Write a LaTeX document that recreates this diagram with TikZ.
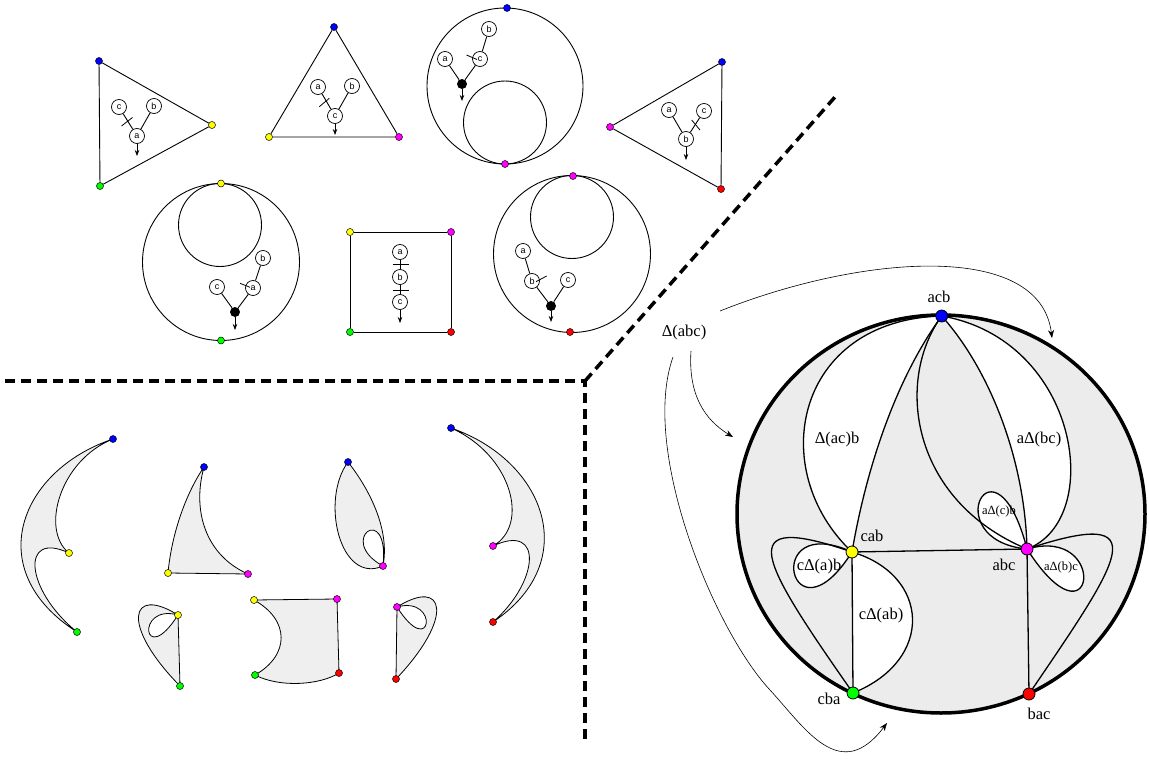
\documentclass[tikz,border=0pt]{standalone}
\usepackage{fontspec}
\setmainfont{Liberation Serif}
\setsansfont{Liberation Sans}
\usetikzlibrary{arrows.meta}
\definecolor{mgray}{RGB}{236,236,236}
\definecolor{lgray}{RGB}{239,239,239}
\definecolor{cB}{RGB}{0,0,255}
\definecolor{cY}{RGB}{255,255,0}
\definecolor{cG}{RGB}{0,255,0}
\definecolor{cM}{RGB}{255,0,255}
\definecolor{cR}{RGB}{255,0,0}
\begin{document}
\begin{tikzpicture}[x=1pt,y=-1pt,
 ln/.style={line width=0.9pt},
 tn/.style={circle,draw,line width=0.7pt,fill=white,minimum size=15pt,inner sep=0pt,font=\sffamily\fontsize{9}{9}\selectfont},
 bn/.style={circle,fill=black,minimum size=10pt,inner sep=0pt},
 sdot/.style={circle,draw,line width=0.5pt,minimum size=7pt,inner sep=0pt},
 mdot/.style={circle,draw,line width=0.8pt,minimum size=12pt,inner sep=0pt},
 lbl/.style={font=\fontsize{16.5}{18}\selectfont,inner sep=1pt},
 slbl/.style={font=\fontsize{12.5}{14}\selectfont,inner sep=1pt},
 tarr/.style={-{Stealth[length=6pt,width=4.5pt]},line width=0.7pt},
 barr/.style={-{Stealth[length=8pt,width=6pt]},line width=0.6pt},
 tickln/.style={line width=0.8pt},
 sep/.style={line width=3.5pt,dash pattern=on 10pt off 6pt},
 shp/.style={fill=lgray,draw=black,line width=0.8pt},
 mln/.style={line width=1.3pt}
]
\useasboundingbox (0,0) rectangle (1149,760);

% ---------- separators
\draw[sep] (5,381) -- (585,381) -- (585,740);
\draw[sep] (585,381) -- (835,97);

% ---------- top shape 1
\node[sdot,fill=cB] (t1B) at (99,61) {};
\node[sdot,fill=cY] (t1Y) at (212,125) {};
\node[sdot,fill=cG] (t1G) at (100,186) {};
\draw[ln] (t1B) -- (t1Y) -- (t1G) -- (t1B);
\node[tn] (t1c) at (119,107) {c};
\node[tn] (t1b) at (154,106) {b};
\node[tn] (t1a) at (137,136) {a};
\coordinate (t1e) at (137,156);
\draw[ln] (t1c) -- (t1a) (t1b) -- (t1a);
\draw[tarr] (t1a) -- (t1e);
\draw[tickln] (121.5,126) -- (132.5,117.5);

% ---------- top shape 2
\node[sdot,fill=cB] (t2B) at (334,27) {};
\node[sdot,fill=cY] (t2Y) at (269,137) {};
\node[sdot,fill=cM] (t2M) at (399,137) {};
\draw[ln] (t2B) -- (t2M) -- (t2Y) -- (t2B);
\node[tn] (t2a) at (318,87) {a};
\node[tn] (t2b) at (352,86) {b};
\node[tn] (t2c) at (335,116) {c};
\coordinate (t2e) at (335,135);
\draw[ln] (t2a) -- (t2c) (t2b) -- (t2c);
\draw[tarr] (t2c) -- (t2e);
\draw[tickln] (319.3,106.7) -- (329.3,98.3);

% ---------- top shape 3
\draw[ln] (505,86) circle[radius=78];
\draw[ln] (505,122.5) circle[radius=41.5];
\node[sdot,fill=cB] (t3B) at (507,8) {};
\node[sdot,fill=cM] (t3M) at (505,164) {};
\node[tn] (t3a) at (445,59) {a};
\node[tn] (t3b) at (489,29) {b};
\node[tn] (t3c) at (480,59) {c};
\node[bn] (t3k) at (462,84) {};
\coordinate (t3e) at (462,101);
\draw[ln] (t3a) -- (t3k) (t3c) -- (t3k) (t3b) -- (t3c);
\draw[tarr] (t3k) -- (t3e);
\draw[tickln] (466.5,55) -- (477,59.5);

% ---------- top shape 4
\node[sdot,fill=cB] (t4B) at (722,62) {};
\node[sdot,fill=cM] (t4M) at (610,127) {};
\node[sdot,fill=cR] (t4R) at (721,189) {};
\draw[ln] (t4B) -- (t4M) -- (t4R) -- (t4B);
\node[tn] (t4a) at (669,110) {a};
\node[tn] (t4c) at (704,111) {c};
\node[tn] (t4b) at (686,139) {b};
\coordinate (t4e) at (686,160);
\draw[ln] (t4a) -- (t4b) (t4c) -- (t4b);
\draw[tarr] (t4b) -- (t4e);
\draw[tickln] (691.7,120) -- (700,130);

% ---------- top shape 5
\draw[ln] (221,262) circle[radius=78.5];
\draw[ln] (220,225) circle[radius=41.5];
\node[sdot,fill=cY] (t5Y) at (221,183.5) {};
\node[sdot,fill=cG] (t5G) at (221,340.5) {};
\node[tn] (t5b) at (263,258) {b};
\node[tn] (t5a) at (253,288) {a};
\node[tn] (t5c) at (217,287) {c};
\node[bn] (t5k) at (235,312) {};
\coordinate (t5e) at (235,330);
\draw[ln] (t5b) -- (t5a) (t5a) -- (t5k) (t5c) -- (t5k);
\draw[tarr] (t5k) -- (t5e);
\draw[tickln] (240,283.3) -- (250,287.3);

% ---------- top shape 6
\node[sdot,fill=cY] (t6Y) at (350,232) {};
\node[sdot,fill=cM] (t6M) at (451,232) {};
\node[sdot,fill=cG] (t6G) at (350,332) {};
\node[sdot,fill=cR] (t6R) at (451,332) {};
\draw[ln] (t6Y) -- (t6M) -- (t6R) -- (t6G) -- (t6Y);
\node[tn] (t6a) at (400,252) {a};
\node[tn] (t6b) at (400,277) {b};
\node[tn] (t6c) at (400,302) {c};
\coordinate (t6e) at (400,323);
\draw[ln] (t6a) -- (t6b) (t6b) -- (t6c);
\draw[tarr] (t6c) -- (t6e);
\draw[tickln] (392.5,264.5) -- (408.5,264.5);
\draw[tickln] (392.5,290.3) -- (408.5,290.3);

% ---------- top shape 7
\draw[ln] (572,254) circle[radius=78.5];
\draw[ln] (572,217) circle[radius=41.5];
\node[sdot,fill=cM] (t7M) at (573,176) {};
\node[sdot,fill=cR] (t7R) at (570,332) {};
\node[tn] (t7a) at (523,251) {a};
\node[tn] (t7b) at (532,281) {b};
\node[tn] (t7c) at (568,280) {c};
\node[bn] (t7k) at (551,306) {};
\coordinate (t7e) at (551,322);
\draw[ln] (t7a) -- (t7b) (t7b) -- (t7k) (t7c) -- (t7k);
\draw[tarr] (t7k) -- (t7e);
\draw[tickln] (536,281.7) -- (546.7,276);

% ---------- bottom-left shapes
\coordinate (a1) at (113,439); \coordinate (a2) at (69,553); \coordinate (a3) at (77,632);
\filldraw[shp] (a1) .. controls (20,470) and (-20,570) .. (a3) .. controls (25,590) and (20,530) .. (a2) .. controls (40,530) and (60,460) .. cycle;
\node[sdot,fill=cB] (a1d) at (a1) {};
\node[sdot,fill=cY] (a2d) at (a2) {};
\node[sdot,fill=cG] (a3d) at (a3) {};

\coordinate (b1) at (204,467); \coordinate (b2) at (168,573); \coordinate (b3) at (248,574);
\filldraw[shp] (b1) .. controls (188,490) and (172,530) .. (b2) -- (b3) .. controls (205,555) and (192,510) .. cycle;
\node[sdot,fill=cB] (b1d) at (b1) {};
\node[sdot,fill=cY] (b2d) at (b2) {};
\node[sdot,fill=cM] (b3d) at (b3) {};

\coordinate (c1) at (178,615); \coordinate (c2) at (180,686);
\filldraw[shp,even odd rule] (c1) .. controls (130,585) and (120,625) .. (c2) -- cycle (c1) .. controls (135,603) and (143,670) .. (c1);
\node[sdot,fill=cY] (c1d) at (c1) {};
\node[sdot,fill=cG] (c2d) at (c2) {};

\coordinate (d1) at (254,600); \coordinate (d2) at (337,599); \coordinate (d3) at (339,673); \coordinate (d4) at (255,675);
\filldraw[shp] (d1) -- (d2) -- (d3) .. controls (320,685) and (280,688) .. (d4) .. controls (290,655) and (290,620) .. cycle;
\node[sdot,fill=cY] (d1d) at (d1) {};
\node[sdot,fill=cM] (d2d) at (d2) {};
\node[sdot,fill=cR] (d3d) at (d3) {};
\node[sdot,fill=cG] (d4d) at (d4) {};

\coordinate (e1) at (348,462); \coordinate (e2) at (383,566);
\filldraw[shp,even odd rule] (e1) .. controls (320,500) and (340,585) .. (e2) .. controls (390,530) and (370,490) .. cycle (e2) .. controls (390,500) and (335,540) .. (e2);
\node[sdot,fill=cB] (e1d) at (e1) {};
\node[sdot,fill=cM] (e2d) at (e2) {};

\coordinate (f1) at (397,607); \coordinate (f2) at (396,679);
\filldraw[shp,even odd rule] (f1) .. controls (445,577) and (455,617) .. (f2) -- cycle (f1) .. controls (440,595) and (432,662) .. (f1);
\node[sdot,fill=cM] (f1d) at (f1) {};
\node[sdot,fill=cR] (f2d) at (f2) {};

\coordinate (g1) at (451,428); \coordinate (g2) at (493,546); \coordinate (g3) at (493,622);
\filldraw[shp] (g1) .. controls (544,460) and (584,561) .. (g3) .. controls (539,582) and (544,522) .. (g2) .. controls (530,525) and (512,455) .. cycle;
\node[sdot,fill=cB] (g1d) at (g1) {};
\node[sdot,fill=cM] (g2d) at (g2) {};
\node[sdot,fill=cR] (g3d) at (g3) {};

% ---------- main diagram
\coordinate (A) at (941.7,316); \coordinate (Y) at (852,552); \coordinate (M) at (1027,549);
\coordinate (G) at (853,693); \coordinate (R) at (1029,694);
\fill[mgray] (941,514) ellipse[x radius=204,y radius=199];
\fill[white] (Y) .. controls (765,470) and (795,320) .. (A) .. controls (895,380) and (866,470) .. cycle;
\fill[white] (A) .. controls (1080,340) and (1105,520) .. (M) .. controls (1025,460) and (990,370) .. cycle;
\fill[white] (Y) .. controls (760,510) and (790,650) .. (Y);
\fill[white] (M) .. controls (935,540) and (995,425) .. (M);
\fill[white] (M) .. controls (1110,525) and (1095,655) .. (M);
\fill[white] (Y) .. controls (930,575) and (935,660) .. (G) -- cycle;

\draw[mln] (Y) .. controls (765,470) and (795,320) .. (A);
\draw[mln] (Y) .. controls (866,470) and (895,380) .. (A);
\draw[mln] (A) .. controls (1080,340) and (1105,520) .. (M);
\draw[mln] (A) .. controls (990,370) and (1025,460) .. (M);
\draw[mln] (A) .. controls (895,380) and (910,500) .. (M);
\draw[mln] (Y) .. controls (760,510) and (790,650) .. (Y);
\draw[mln] (M) .. controls (935,540) and (995,425) .. (M);
\draw[mln] (M) .. controls (1110,525) and (1095,655) .. (M);
\draw[mln] (Y) .. controls (930,575) and (935,660) .. (G);
\draw[mln] (Y) .. controls (730,510) and (760,560) .. (G);
\draw[mln] (M) .. controls (1160,505) and (1120,560) .. (R);
\draw[mln] (Y) -- (M);
\draw[mln] (Y) -- (G);
\draw[mln] (M) -- (R);
\draw[line width=3.5pt] (941,514) ellipse[x radius=204,y radius=199];

\node[mdot,fill=cB] (Ad) at (A) {};
\node[mdot,fill=cY] (Yd) at (Y) {};
\node[mdot,fill=cM] (Md) at (M) {};
\node[mdot,fill=cG] (Gd) at (G) {};
\node[mdot,fill=cR] (Rd) at (R) {};

\node[lbl] (lacb) at (939,297) {acb};
\node[lbl] (lcab) at (872,536) {cab};
\node[lbl] (labc) at (1004,565) {abc};
\node[lbl] (lcba) at (829,699) {cba};
\node[lbl] (lbac) at (1039,714) {bac};
\node[lbl] (lacb2) at (837,440) {Δ(ac)b};
\node[lbl] (lbc) at (1039,440) {aΔ(bc)};
\node[slbl] (lcb) at (999,511) {aΔ(c)b};
\node[lbl] (lab) at (819,567) {cΔ(a)b};
\node[slbl] (lbcc) at (1061,567) {aΔ(b)c};
\node[lbl] (lcab2) at (881,616) {cΔ(ab)};

% ---------- Delta(abc) and arrows
\node[lbl] (D) at (684,333) {Δ(abc)};
\coordinate (d1s) at (720,311); \coordinate (d1e) at (1052,338);
\coordinate (d2s) at (691,351); \coordinate (d2e) at (733,437);
\coordinate (d3s) at (673,357); \coordinate (d3m) at (770,690); \coordinate (d3e) at (887,723);
\draw[barr] (d1s) .. controls (860,255) and (1040,240) .. (d1e);
\draw[barr] (d2s) .. controls (688,395) and (705,420) .. (d2e);
\draw[barr] (d3s) .. controls (640,450) and (714,630) .. (d3m) .. controls (805,728) and (840,785) .. (d3e);
\end{tikzpicture}
\end{document}
